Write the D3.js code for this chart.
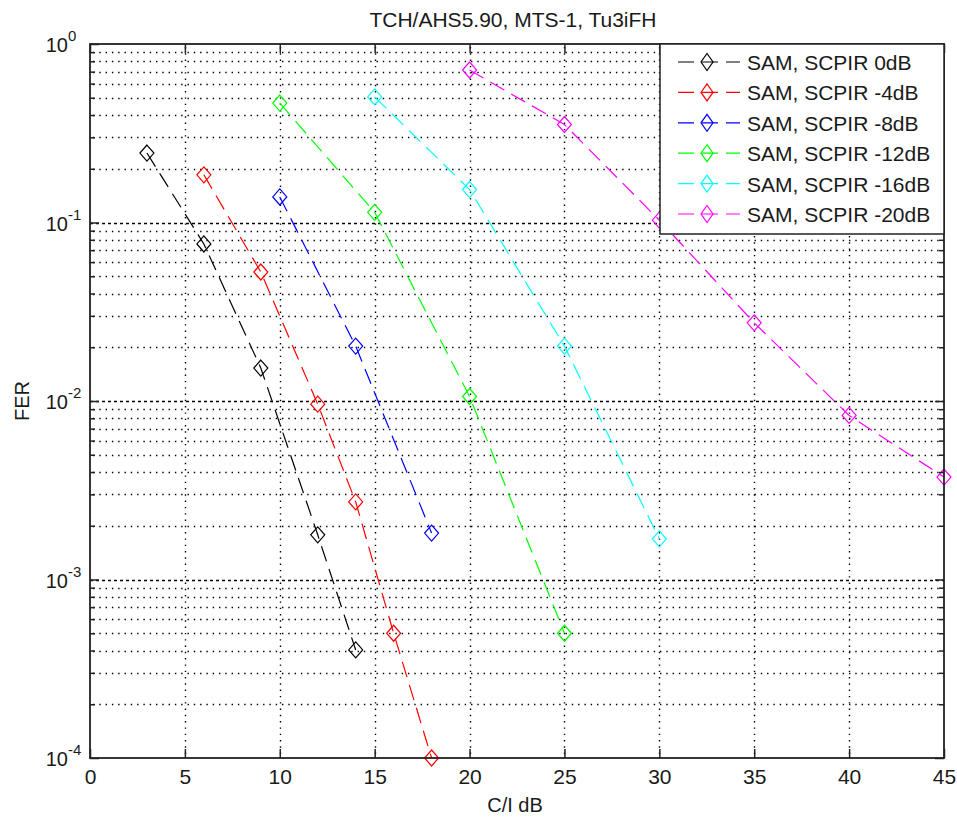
<!DOCTYPE html>
<html>
<head>
<meta charset="utf-8">
<script src="https://cdn.jsdelivr.net/npm/d3@7"></script>
<style>
  html, body { margin: 0; padding: 0; background: #fff; }
  svg { display: block; }
  text { font-family: "Liberation Sans", Arial, sans-serif; fill: #1a1a1a; }
</style>
</head>
<body>
<svg id="chart" width="957" height="818"></svg>
<script>
// ---------- data ----------
const titleText = "TCH/AHS5.90, MTS-1, Tu3iFH";
const xLabel = "C/I dB";
const yLabel = "FER";
const xTicks = [0, 5, 10, 15, 20, 25, 30, 35, 40, 45];
const yDecades = [1e-4, 1e-3, 1e-2, 1e-1, 1];
const yExponents = ["-4", "-3", "-2", "-1", "0"];

const seriesNames = ["SAM, SCPIR 0dB", "SAM, SCPIR -4dB", "SAM, SCPIR -8dB",
                     "SAM, SCPIR -12dB", "SAM, SCPIR -16dB", "SAM, SCPIR -20dB"];
const seriesColors = ["#000000", "#ff0000", "#0000ff", "#00ff00", "#00ffff", "#ff00ff"];

const x0dB  = [3, 6, 9, 12, 14];
const y0dB  = [0.245, 0.0758, 0.0153, 0.00178, 0.000403];
const x4dB  = [6, 9, 12, 14, 16, 18];
const y4dB  = [0.185, 0.0528, 0.0096, 0.00272, 0.0005, 0.0001];
const x8dB  = [10, 14, 18];
const y8dB  = [0.139, 0.0203, 0.00182];
const x12dB = [10, 15, 20, 25];
const y12dB = [0.467, 0.114, 0.0106, 0.0005];
const x16dB = [15, 20, 25, 30];
const y16dB = [0.505, 0.153, 0.0203, 0.00169];
const x20dB = [20, 25, 30, 35, 40, 45];
const y20dB = [0.715, 0.354, 0.103, 0.0274, 0.0083, 0.00375];

const seriesX = [x0dB, x4dB, x8dB, x12dB, x16dB, x20dB];
const seriesY = [y0dB, y4dB, y8dB, y12dB, y16dB, y20dB];

// ---------- layout ----------
const L = 90, R = 944, T = 44, B = 758;
const svg = d3.select("#chart");
const x = d3.scaleLinear().domain([0, 45]).range([L, R]);
const y = d3.scaleLog().domain([1e-4, 1]).range([B, T]);

// minor ticks
const minorVals = [];
for (let e = -4; e < 0; e++) for (let m = 2; m <= 9; m++) minorVals.push(m * Math.pow(10, e));

// ---------- grid ----------
const grid = svg.append("g");
grid.selectAll("line.vg").data(xTicks.filter(v => v > 0 && v < 45)).join("line")
  .attr("x1", d => Math.round(x(d)) + 0.5).attr("x2", d => Math.round(x(d)) + 0.5)
  .attr("y1", T + 3).attr("y2", B)
  .attr("stroke", "#000").attr("stroke-width", 1.4).attr("stroke-dasharray", "1.4,4.9");
grid.selectAll("line.hg").data(minorVals).join("line")
  .attr("x1", L + 3).attr("x2", R)
  .attr("y1", d => Math.round(y(d)) + 0.5).attr("y2", d => Math.round(y(d)) + 0.5)
  .attr("stroke", "#000").attr("stroke-width", 1.4).attr("stroke-dasharray", "1.4,4.9");
grid.selectAll("line.dg").data(yDecades.filter(v => v > 1e-4 && v < 1)).join("line")
  .attr("x1", L).attr("x2", R)
  .attr("y1", d => Math.round(y(d)) + 0.5).attr("y2", d => Math.round(y(d)) + 0.5)
  .attr("stroke", "#000").attr("stroke-width", 1.4).attr("stroke-dasharray", "3,3");

// ---------- series ----------
const line = d3.line().x(d => x(d[0])).y(d => y(d[1])).curve(d3.curveLinear);
const diamond = (cx, cy, w, h) => `M${cx},${cy - h}L${cx + w},${cy}L${cx},${cy + h}L${cx - w},${cy}Z`;

seriesNames.forEach((name, i) => {
  const pts = seriesX[i].map((v, j) => [v, seriesY[i][j]]);
  const g = svg.append("g");
  g.append("path").datum(pts).attr("d", line)
    .attr("fill", "none").attr("stroke", seriesColors[i]).attr("stroke-width", 1.2)
    .attr("stroke-dasharray", "16,8");
  g.selectAll("path.mk").data(pts).join("path")
    .attr("d", d => diamond(x(d[0]), y(d[1]), 7, 8))
    .attr("fill", "none").attr("stroke", seriesColors[i]).attr("stroke-width", 1.2);
});

// ---------- axes ----------
const axisColor = "#222";
function styleAxis(g) {
  g.select(".domain").remove();
  g.selectAll(".tick line").attr("stroke", axisColor).attr("stroke-width", 1.5);
}
// bottom
svg.append("g").attr("transform", `translate(0,${B})`)
  .call(d3.axisBottom(x).tickValues(xTicks).tickSize(-9).tickPadding(11).tickFormat(d3.format("d")))
  .call(styleAxis)
  .call(g => g.selectAll("text").attr("font-size", 21).attr("fill", "#1a1a1a")
    .attr("font-family", "Liberation Sans, Arial, sans-serif"));
// top
svg.append("g").attr("transform", `translate(0,${T})`)
  .call(d3.axisTop(x).tickValues(xTicks).tickSize(-9).tickFormat(""))
  .call(styleAxis);
// left major / minor
svg.append("g").attr("transform", `translate(${L},0)`)
  .call(d3.axisLeft(y).tickValues(yDecades).tickSize(-9).tickFormat(""))
  .call(styleAxis);
svg.append("g").attr("transform", `translate(${L},0)`)
  .call(d3.axisLeft(y).tickValues(minorVals).tickSize(-5).tickFormat(""))
  .call(styleAxis);
// right major / minor
svg.append("g").attr("transform", `translate(${R},0)`)
  .call(d3.axisRight(y).tickValues(yDecades).tickSize(-9).tickFormat(""))
  .call(styleAxis);
svg.append("g").attr("transform", `translate(${R},0)`)
  .call(d3.axisRight(y).tickValues(minorVals).tickSize(-5).tickFormat(""))
  .call(styleAxis);

// y labels 10^n
const ylab = svg.append("g");
yDecades.forEach((v, i) => {
  ylab.append("text").attr("x", 68).attr("y", y(v) + 8)
    .attr("text-anchor", "end").attr("font-size", 20).text("10");
  ylab.append("text").attr("x", 68).attr("y", y(v) - 3)
    .attr("font-size", 15).text(yExponents[i]);
});

// frame
svg.append("rect").attr("x", L).attr("y", T).attr("width", R - L).attr("height", B - T)
  .attr("fill", "none").attr("stroke", axisColor).attr("stroke-width", 1.8);

// title and labels
svg.append("text").attr("x", (L + R) / 2 - 4).attr("y", 27).attr("text-anchor", "middle")
  .attr("font-size", 21).text(titleText);
svg.append("text").attr("x", (L + R) / 2 - 2).attr("y", 812).attr("text-anchor", "middle")
  .attr("font-size", 20).text(xLabel);
svg.append("text").attr("transform", `translate(29,${(T + B) / 2}) rotate(-90)`)
  .attr("text-anchor", "middle").attr("font-size", 20).text(yLabel);

// ---------- legend ----------
const lg = svg.append("g");
lg.append("rect").attr("x", 660).attr("y", T).attr("width", R - 660).attr("height", 190)
  .attr("fill", "#fff").attr("stroke", axisColor).attr("stroke-width", 1.5);
seriesNames.forEach((name, i) => {
  const cy = 62 + i * 30.4;
  lg.append("line").attr("x1", 678).attr("x2", 740).attr("y1", cy).attr("y2", cy)
    .attr("stroke", seriesColors[i]).attr("stroke-width", 1.2).attr("stroke-dasharray", "16,8");
  lg.append("path").attr("d", diamond(707, cy, 6, 8.5))
    .attr("fill", "none").attr("stroke", seriesColors[i]).attr("stroke-width", 1.2);
  lg.append("text").attr("x", 747).attr("y", cy + 8).attr("font-size", 21).text(name);
});
</script>
</body>
</html>
